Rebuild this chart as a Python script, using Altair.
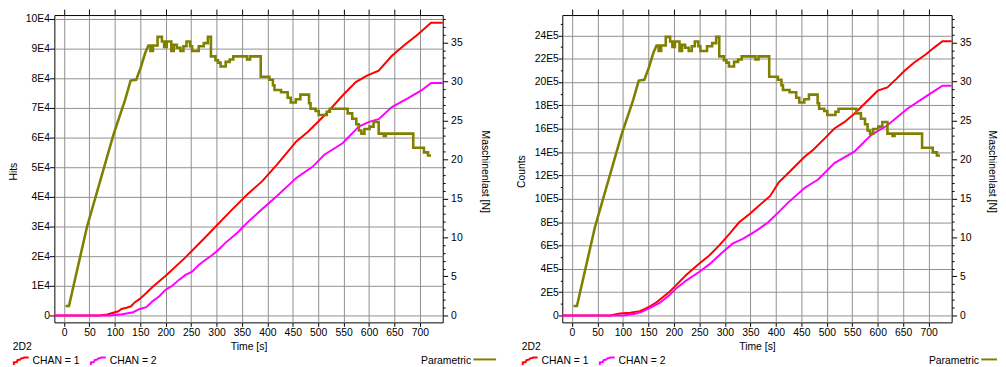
import altair as alt
import pandas as pd

FONT = "Liberation Sans"
FS = 10.5

# ---------------- data ----------------
x_ticks = [0, 50, 100, 150, 200, 250, 300, 350, 400, 450, 500, 550, 600, 650, 700]
hits_ticks = [0, 10000, 20000, 30000, 40000, 50000, 60000, 70000, 80000, 90000, 100000]
counts_ticks = [i * 100000 for i in range(0, 26)]
load_ticks = list(range(0, 39))

# Left panel: Hits
hits_t1 = [-19, 70, 85, 97, 107, 113, 123, 132, 139, 149, 162, 174, 200, 239, 278, 330, 361, 390, 419,
           457, 480, 516, 548, 574, 596, 619, 645, 671, 696, 722, 760]
hits_c1 = [0, 0, 300, 900, 1400, 2200, 2600, 3100, 4400, 5600, 7600, 9600, 13400, 19600, 26400, 35600,
           40900, 45300, 50900, 58700, 62000, 68100, 74200, 78700, 80900, 82600, 87600, 91400, 94800,
           98700, 98700]
hits_t2 = [-19, 90, 115, 136, 149, 162, 174, 187, 200, 213, 226, 239, 252, 265, 278, 291, 304, 317, 342,
           361, 386, 419, 457, 490, 512, 548, 580, 600, 619, 645, 677, 703, 722, 760]
hits_c2 = [0, 0, 400, 1100, 2200, 2800, 4800, 6400, 8700, 10000, 12000, 13700, 14800, 17000, 18700,
           20300, 22200, 24400, 28100, 31400, 35300, 40300, 46400, 50300, 54200, 58100, 63700, 65300,
           66200, 70300, 73300, 75900, 78400, 78400]

# Right panel: Counts
cnt_t1 = [-19, 75, 94, 114, 133, 143, 153, 166, 172, 192, 205, 224, 250, 270, 289, 309, 328, 348, 359,
          389, 405, 431, 457, 473, 496, 515, 535, 554, 577, 600, 619, 636, 652, 671, 694, 710, 727, 760]
cnt_c1 = [0, 0, 17000, 23000, 37000, 56000, 79000, 113000, 135000, 206000, 262000, 347000, 446000,
          516000, 601000, 699000, 798000, 868000, 911000, 1024000, 1136000, 1249000, 1362000, 1418000,
          1517000, 1602000, 1658000, 1729000, 1827000, 1926000, 1954000, 2025000, 2095000, 2166000,
          2236000, 2293000, 2349000, 2349000]
cnt_t2 = [-19, 100, 127, 140, 153, 172, 192, 205, 224, 250, 270, 296, 315, 335, 354, 367, 385, 405, 424,
          457, 483, 515, 554, 587, 619, 658, 697, 727, 760]
cnt_c2 = [0, 0, 17000, 37000, 65000, 107000, 178000, 234000, 299000, 375000, 440000, 544000, 615000,
          657000, 705000, 742000, 798000, 883000, 967000, 1094000, 1165000, 1306000, 1404000, 1545000,
          1630000, 1771000, 1884000, 1968000, 1968000]

# Parametric: Maschinenlast [N] (step trace, repeated times are the vertical jumps)
load_t = [3, 9.7, 45, 97, 120, 131, 142, 150.5, 160, 166,
          170, 170, 175, 175, 184, 184, 192.6, 192.6, 197, 197, 202, 202, 211, 211, 216, 216,
          222, 222, 229, 229, 235, 235, 241, 241, 248, 248, 252, 252, 265, 265, 275, 275, 283, 283,
          289, 289, 298, 298, 303, 303, 308, 308, 318, 318, 326, 326, 333, 333, 360, 360, 366, 366,
          387, 387, 404, 404, 411, 411, 414, 414, 427, 427, 440, 440, 446, 446, 456, 456, 465, 465,
          482, 482, 485, 485, 495, 495, 501, 501, 517, 517, 523, 523, 558, 558, 567, 567, 575, 575,
          580, 580, 585, 585, 591, 591, 601, 601, 609, 609, 619, 619, 629, 629, 633, 633, 687, 687,
          708, 708, 716, 716, 722]
load_n = [1.2, 1.2, 11.3, 23.1, 27.6, 30.1, 30.2, 31.7, 33.7, 34.6,
          34.6, 33.9, 33.9, 34.6, 34.6, 35.7, 35.7, 35.1, 35.1, 34.4, 34.4, 35.1, 35.1, 33.9, 33.9, 34.7,
          34.7, 34.3, 34.3, 33.9, 33.9, 34.5, 34.5, 35.1, 35.1, 34.5, 34.5, 33.9, 33.9, 34.5, 34.5, 34.9,
          34.9, 35.7, 35.7, 33.2, 33.2, 32.7, 32.7, 32.4, 32.4, 31.9, 31.9, 32.5, 32.5, 32.8, 32.8, 33.2,
          33.2, 32.8, 32.8, 33.2, 33.2, 30.6, 30.6, 30.2, 30.2, 29.5, 29.5, 28.9, 28.9, 28.6, 28.6, 27.9,
          27.9, 27.3, 27.3, 27.7, 27.7, 28.3, 28.3, 27.2, 27.2, 26.5, 26.5, 26.2, 26.2, 25.7, 25.7, 26.1,
          26.1, 26.5, 26.5, 25.9, 25.9, 25.2, 25.2, 24.5, 24.5, 23.7, 23.7, 23.3, 23.3, 23.9, 23.9, 24.2,
          24.2, 24.8, 24.8, 23.3, 23.3, 23.0, 23.0, 23.3, 23.3, 21.5, 21.5, 20.9, 20.9, 20.5, 20.5]

SERIES = ["CHAN = 1", "CHAN = 2"]
COLORS = ["#ff0000", "#ff00ff"]
OLIVE = "#808000"
X_DOMAIN = [-19, 745]

CHAN_PATH = ("M-1,0.5 L-1,0.15 L-0.6,0.1 L-0.5,-0.15 L-0.1,-0.25 L0,-0.4 "
             "L0.3,-0.45 L0.4,-0.5 L1,-0.5")
PARA_FULL = "stroke"
PARA_CUT = "M-1,0 L0.38,0"   # the right panel's key line is cut by the page edge


def lines_frame(t1, v1, t2, v2):
    return pd.DataFrame({
        "t": t1 + t2,
        "v": v1 + v2,
        "series": [SERIES[0]] * len(t1) + [SERIES[1]] * len(t2),
    })


load_df = pd.DataFrame({"t": load_t, "n": load_n, "idx": list(range(len(load_t))),
                        "name": ["Parametric"] * len(load_t)})


def panel(df, y_domain, y_ticks, y_label_expr, major_test, y_title, width, major_tick, minor_tick,
          para_symbol, right_title_x, legend_x):
    xs = alt.Scale(domain=X_DOMAIN, nice=False, zero=False)
    x_bottom = alt.Axis(values=x_ticks, title="Time [s]", tickSize=4, labelPadding=1, grid=True,
                        domain=False, titleY=24, titleBaseline="middle", labelFlush=False,
                        labelOverlap=False)
    y_left = alt.Axis(values=y_ticks, labelExpr=y_label_expr, title=y_title, grid=True,
                      gridOpacity={"condition": {"test": major_test, "value": 1}, "value": 0},
                      tickSize={"condition": {"test": major_test, "value": major_tick},
                                "value": minor_tick},
                      labelPadding=0, domain=False, labelOverlap=False,
                      labelFlush=False, titleX=-41, titleY=158, titleAngle=270,
                      titleAlign="center", titleBaseline="middle")
    lines = alt.Chart(df).mark_line(strokeWidth=2, clip=True).encode(
        x=alt.X("t:Q", scale=xs, axis=x_bottom),
        y=alt.Y("v:Q", scale=alt.Scale(domain=y_domain, nice=False, zero=False), axis=y_left),
        color=alt.Color("series:N", scale=alt.Scale(domain=SERIES, range=COLORS),
                        legend=alt.Legend(title="2D2", orient="none", legendX=legend_x,
                                          legendY=331, direction="horizontal",
                                          symbolType=CHAN_PATH, symbolSize=225,
                                          symbolStrokeWidth=2, symbolFillColor="transparent",
                                          columnPadding=7, labelOffset=3, titlePadding=0,
                                          padding=0)),
    )
    y_right = alt.Axis(orient="right", values=load_ticks,
                       labelExpr="datum.value % 5 === 0 ? datum.label : ''",
                       tickSize={"condition": {"test": "datum.value % 5 === 0", "value": 5},
                                 "value": 2.5},
                       labelPadding=3, grid=False, domain=False, labelOverlap=False,
                       labelFlush=False, title="Maschinenlast [N]", titleAngle=90,
                       titleX=right_title_x, titleY=158, titleAlign="center",
                       titleBaseline="middle")
    olive = alt.Chart(load_df).mark_line(strokeWidth=2.6, clip=True).encode(
        x=alt.X("t:Q", scale=xs, axis=None),
        y=alt.Y("n:Q", scale=alt.Scale(domain=[-0.89, 38.5], nice=False, zero=False),
                axis=y_right),
        stroke=alt.Stroke("name:N", scale=alt.Scale(domain=["Parametric"], range=[OLIVE]),
                          legend=alt.Legend(title="Parametric", titleOrient="left",
                                            titleAnchor="middle", titleBaseline="top",
                                            titlePadding=1, orient="none", legendX=371,
                                            legendY=336, symbolType=para_symbol,
                                            symbolSize=529, symbolStrokeWidth=2,
                                            symbolFillColor="transparent",
                                            labelExpr="''", labelOffset=0, padding=0)),
        order=alt.Order("idx:Q"),
    )
    top = alt.Chart(load_df).mark_point(opacity=0).encode(
        x=alt.X("t:Q", scale=xs,
                axis=alt.Axis(orient="top", values=x_ticks, labels=False, tickSize=6,
                              title=None, grid=False, domain=False)),
    )
    return alt.layer(lines, olive, top).resolve_scale(y="independent").resolve_axis(
        x="independent", y="independent").properties(width=width, height=311)


left = panel(lines_frame(hits_t1, hits_c1, hits_t2, hits_c2), [-2333, 101333], hits_ticks,
             "datum.value == 0 ? '0' : round(datum.value / 10000) + 'E4'", "true", "Hits", 393,
             5, 5, PARA_FULL, 42, -42)
right = panel(lines_frame(cnt_t1, cnt_c1, cnt_t2, cnt_c2), [-59200, 2574000], counts_ticks,
              "datum.value == 0 ? '0' : (round(datum.value / 100000) % 2 == 0 ? "
              "round(datum.value / 100000) + 'E5' : '')",
              "round(datum.value / 100000) % 2 == 0", "Counts", 394, 4, 2, PARA_CUT, 40, -41)

chart = alt.hconcat(left, right, spacing=121, bounds="flush").resolve_scale(
    color="independent", stroke="independent").resolve_legend(
    color="independent", stroke="independent").properties(
    padding={"left": 8, "top": 6, "right": 0, "bottom": 0}
).configure(font=FONT).configure_axis(
    labelFont=FONT, labelFontSize=FS, titleFont=FONT, titleFontSize=FS, titleFontWeight="normal",
    labelColor="black", titleColor="black", tickColor="black", gridColor="#8f8f8f", gridWidth=1
).configure_view(stroke="black", strokeWidth=1).configure_legend(
    labelFont=FONT, labelFontSize=FS, titleFont=FONT, titleFontSize=FS, titleFontWeight="normal",
    labelColor="black", titleColor="black"
)

chart.save("out.html", embed_options={"renderer": "svg", "actions": False})
